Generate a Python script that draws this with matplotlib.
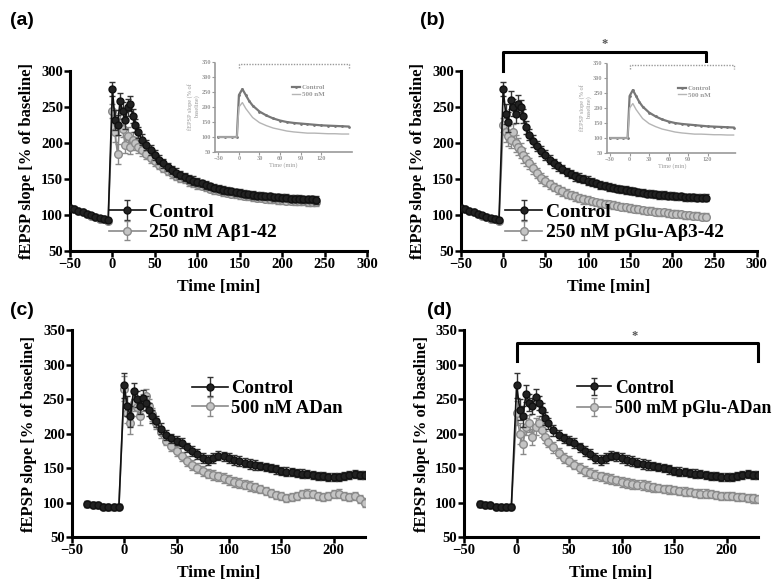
import matplotlib
matplotlib.use("Agg")
import matplotlib.pyplot as plt

plt.rcParams['font.family'] = ['Liberation Serif', 'DejaVu Serif']
plt.rcParams['font.weight'] = 'bold'

# ---------------- data: panels (a) and (b) ----------------
t_ab = [-50, -45, -40, -35, -30, -25, -20, -15, -10, -5,
        0, 3, 6, 9, 12, 15, 18, 21, 24, 27,
        30, 35, 40, 45, 50, 55, 60, 65, 70, 75, 80, 85, 90, 95, 100,
        105, 110, 115, 120, 125, 130, 135, 140, 145, 150, 155, 160, 165, 170, 175,
        180, 185, 190, 195, 200, 205, 210, 215, 220, 225, 230, 235, 240]

ctrl_a = [110, 108, 106, 104, 102, 100, 98, 96, 94, 93,
          275, 232, 225, 258, 245, 232, 250, 255, 238, 225,
          215, 205, 197, 190, 183, 177, 172, 167, 163, 159, 156, 153, 150, 148, 146,
          144, 142, 140, 138, 137, 135, 134, 133, 132, 131, 130, 129, 128, 127, 127,
          126, 126, 125, 125, 124, 124, 123, 123, 123, 122, 122, 122, 121]

abeta_a = [110, 108, 106, 104, 101, 99, 97, 95, 94, 92,
           245, 215, 185, 230, 220, 198, 210, 195, 205, 200,
           195, 190, 185, 180, 175, 170, 166, 162, 158, 155, 152, 150, 147, 145, 143,
           141, 139, 137, 135, 134, 132, 131, 130, 129, 128, 127, 126, 125, 124, 124,
           123, 122, 122, 121, 121, 120, 120, 119, 119, 119, 118, 118, 118]

ctrl_b = [110, 108, 106, 104, 102, 100, 98, 96, 94, 93,
          275, 240, 230, 260, 250, 240, 255, 250, 238, 222,
          212, 203, 196, 189, 183, 177, 172, 168, 164, 160, 157, 154, 152, 150, 148,
          146, 144, 142, 141, 139, 138, 137, 136, 135, 134, 133, 132, 131, 130, 130,
          129, 128, 128, 127, 127, 126, 126, 125, 125, 125, 124, 124, 124]

pglu_b = [110, 108, 106, 104, 101, 99, 97, 95, 94, 92,
          225, 215, 210, 205, 215, 200, 195, 190, 183, 178,
          172, 165, 158, 152, 147, 143, 139, 136, 133, 130, 128, 126, 124, 122, 121,
          119, 118, 117, 116, 115, 114, 113, 112, 111, 110, 109, 108, 107, 106, 106,
          105, 104, 104, 103, 102, 102, 101, 100, 100, 99, 99, 98, 98]

err_ab = [3, 3, 3, 3, 3, 3, 3, 3, 3, 3,
          10, 14, 14, 12, 12, 12, 12, 10, 10, 9,
          8, 8, 7, 7, 7, 6, 6, 6, 6, 6, 6, 6, 6, 6, 6,
          5, 5, 5, 5, 5, 5, 5, 5, 5, 5, 5, 5, 5, 5, 5,
          5, 5, 5, 5, 5, 5, 5, 5, 5, 5, 5, 5, 5]

# ---------------- data: panels (c) and (d) ----------------
t_cd = [-35, -30, -25, -20, -15, -10, -5,
        0, 3, 6, 9, 12, 15, 18, 21, 24, 27,
        30, 35, 40, 45, 50, 55, 60, 65, 70, 75, 80, 85, 90, 95, 100,
        105, 110, 115, 120, 125, 130, 135, 140, 145, 150, 155, 160, 165, 170, 175,
        180, 185, 190, 195, 200, 205, 210, 215, 220, 225, 230]

ctrl_c = [98, 97, 96, 94, 93, 93, 94,
          270, 240, 225, 262, 250, 240, 252, 245, 235, 225,
          218, 207, 198, 193, 190, 186, 180, 175, 170, 165, 162, 165, 168, 167, 165,
          162, 160, 158, 156, 154, 153, 152, 150, 148, 146, 145, 144, 143, 142, 141,
          140, 139, 138, 137, 137, 137, 138, 140, 141, 140, 140]

adan_c = [98, 97, 96, 94, 93, 93, 94,
          265, 230, 215, 245, 238, 225, 245, 255, 240, 228,
          215, 202, 190, 182, 175, 167, 160, 154, 150, 146, 142, 140, 138, 136, 133,
          130, 128, 126, 124, 122, 120, 117, 114, 111, 109, 107, 108, 110, 112, 113,
          112, 110, 108, 109, 112, 113, 110, 108, 110, 105, 100]

ctrl_d = [98, 97, 96, 94, 93, 93, 94,
          270, 235, 225, 258, 245, 240, 253, 245, 235, 222,
          215, 205, 198, 193, 190, 186, 180, 175, 170, 165, 162, 165, 168, 167, 165,
          162, 160, 158, 156, 154, 153, 152, 150, 148, 146, 145, 144, 143, 142, 141,
          140, 139, 138, 137, 137, 137, 138, 140, 141, 140, 140]

pglu_d = [98, 97, 96, 94, 93, 93, 94,
          230, 200, 185, 210, 215, 195, 210, 215, 205, 195,
          188, 180, 172, 165, 160, 155, 150, 146, 143, 140, 138, 136, 134, 132, 130,
          128, 127, 126, 125, 124, 122, 121, 120, 119, 118, 117, 116, 115, 114, 113,
          113, 112, 111, 110, 110, 109, 108, 108, 107, 106, 105]

err_cd = [4, 4, 4, 4, 4, 4, 4,
          18, 15, 15, 12, 12, 12, 12, 10, 10, 9,
          8, 8, 7, 7, 7, 7, 7, 7, 7, 7, 7, 7, 7, 7, 7,
          7, 7, 7, 7, 7, 6, 6, 6, 6, 6, 6, 6, 6, 6, 6,
          6, 6, 6, 6, 6, 6, 6, 6, 6, 6, 6]

# ---------------- inset data ----------------
t_ins = [-30, -20, -10, -3, 0, 5, 10, 15, 20, 30, 40, 50, 60, 70, 80, 90,
         100, 110, 120, 130, 140, 150, 160]
ins_ctrl = [100, 100, 100, 100, 240, 260, 240, 220, 205, 185, 172, 162, 155, 150,
            147, 145, 143, 141, 139, 138, 137, 136, 135]
ins_trt = [100, 100, 100, 100, 200, 215, 195, 180, 165, 148, 138, 130, 125, 120,
           117, 115, 113, 113, 112, 111, 111, 110, 110]

labels_a = ['Control', '250 nM A\u03b21-42']
labels_b = ['Control', '250 nM pGlu-A\u03b23-42']
labels_c = ['Control', '500 nM ADan']
labels_d = ['Control', '500 mM pGlu-ADan']
ylab = 'fEPSP slope [% of baseline]'
xlab = 'Time [min]'

fig = plt.figure(figsize=(7.8, 5.84), dpi=100)

ax_a = fig.add_axes([0.0897, 0.570, 0.381, 0.308])
ax_b = fig.add_axes([0.591, 0.570, 0.379, 0.308])
ax_c = fig.add_axes([0.092, 0.0805, 0.376, 0.354])
ax_d = fig.add_axes([0.595, 0.0805, 0.377, 0.354])

GRAY_F = '#c4c4c4'
GRAY_E = '#8a8a8a'


def draw(ax, t, ctrl, trt, err, labels):
    h2 = ax.errorbar(t, trt, yerr=err, fmt='-o', color=GRAY_E, ms=5.5,
                     mfc=GRAY_F, mec=GRAY_E, mew=1.0, lw=1.2, elinewidth=1.0,
                     capsize=2, ecolor=GRAY_E, zorder=2)
    h1 = ax.errorbar(t, ctrl, yerr=err, fmt='-o', color='#111111', ms=5,
                     mfc='#222222', mec='#111111', lw=1.2, elinewidth=1.0,
                     capsize=2, ecolor='#333333', zorder=3)
    return [h1, h2]


def style(ax, xlim, ylim, xticks, yticks):
    ax.set_xlim(*xlim)
    ax.set_ylim(*ylim)
    ax.set_xticks(xticks)
    ax.set_yticks(yticks)
    for s in ['top', 'right']:
        ax.spines[s].set_visible(False)
    for s in ['left', 'bottom']:
        ax.spines[s].set_linewidth(2.2)
    ax.tick_params(direction='out', length=4, width=1.8, labelsize=10.5, pad=1)
    for lab in ax.get_xticklabels() + ax.get_yticklabels():
        lab.set_fontweight('bold')
    ax.set_xlabel(xlab, fontsize=12.5, fontweight='bold', labelpad=6)
    ax.set_ylabel(ylab, fontsize=12, fontweight='bold', labelpad=4)


# panel a
ha = draw(ax_a, t_ab, ctrl_a, abeta_a, err_ab, labels_a)
style(ax_a, (-50, 300), (50, 300), [-50, 0, 50, 100, 150, 200, 250, 300],
      [50, 100, 150, 200, 250, 300])
ax_a.legend(ha, labels_a, loc='center left', bbox_to_anchor=(0.13, 0.16),
            frameon=False, fontsize=14, handlelength=1.9, handletextpad=0.2,
            labelspacing=0.15, borderpad=0, borderaxespad=0)

# panel b
hb = draw(ax_b, t_ab, ctrl_b, pglu_b, err_ab, labels_b)
style(ax_b, (-50, 300), (50, 300), [-50, 0, 50, 100, 150, 200, 250, 300],
      [50, 100, 150, 200, 250, 300])
ax_b.legend(hb, labels_b, loc='center left', bbox_to_anchor=(0.15, 0.16),
            frameon=False, fontsize=14, handlelength=1.9, handletextpad=0.2,
            labelspacing=0.15, borderpad=0, borderaxespad=0)
ax_b.plot([0, 0, 240, 240], [300, 327, 327, 300], color='black', lw=2.2,
          clip_on=False)
ax_b.text(120, 329, '*', ha='center', va='bottom', fontsize=9, color='#555555')

# panel c
hc = draw(ax_c, t_cd, ctrl_c, adan_c, err_cd, labels_c)
style(ax_c, (-50, 230), (50, 350), [-50, 0, 50, 100, 150, 200],
      [50, 100, 150, 200, 250, 300, 350])
ax_c.legend(hc, labels_c, loc='center left', bbox_to_anchor=(0.41, 0.67),
            frameon=False, fontsize=13.5, handlelength=1.9, handletextpad=0.2,
            labelspacing=0.15, borderpad=0, borderaxespad=0)

# panel d
hd = draw(ax_d, t_cd, ctrl_d, pglu_d, err_cd, labels_d)
style(ax_d, (-50, 230), (50, 350), [-50, 0, 50, 100, 150, 200],
      [50, 100, 150, 200, 250, 300, 350])
ax_d.legend(hd, labels_d, loc='center left', bbox_to_anchor=(0.385, 0.67),
            frameon=False, fontsize=12.8, handlelength=1.9, handletextpad=0.2,
            labelspacing=0.2, borderpad=0, borderaxespad=0)
ax_d.plot([0, 0, 230, 230], [305, 331, 331, 305], color='black', lw=2.2,
          clip_on=False)
ax_d.text(112, 333, '*', ha='center', va='bottom', fontsize=9, color='#555555')


# insets
def inset(rect, lab2):
    ax = fig.add_axes(rect)
    c = '#9a9a9a'
    ax.plot(t_ins, ins_ctrl, '-', color='#777777', lw=1.6, marker='.', ms=2)
    ax.plot(t_ins, ins_trt, '-', color='#b5b5b5', lw=1.0)
    ax.set_xlim(-35, 165)
    ax.set_ylim(50, 350)
    ax.set_xticks([-30, 0, 30, 60, 90, 120])
    ax.set_yticks([50, 100, 150, 200, 250, 300, 350])
    for s in ['top', 'right']:
        ax.spines[s].set_visible(False)
    for s in ['left', 'bottom']:
        ax.spines[s].set_color(c)
        ax.spines[s].set_linewidth(1.2)
        ax.spines[s].set_linestyle((0, (1, 1)))
    ax.tick_params(colors=c, labelsize=4.5, length=2, width=0.8, pad=1)
    ax.set_xlabel('Time (min)', fontsize=4.5, color=c, labelpad=1)
    ax.set_ylabel('fEPSP slope (% of\nbaseline)', fontsize=4.5, color=c,
                  labelpad=1)
    ax.plot([0, 0, 160, 160], [330, 345, 345, 330], color=c, lw=1.0,
            ls=(0, (1, 1)), clip_on=False)
    ax.legend(['Control', lab2], loc='upper right', bbox_to_anchor=(0.85, 0.82),
              frameon=False, fontsize=5, handlelength=1.2, handletextpad=0.2,
              labelcolor=c, labelspacing=0.1)
    return ax


inset([0.2756, 0.7397, 0.1756, 0.154], '500 nM')
inset([0.778, 0.738, 0.1667, 0.154], '500 nM')

# panel labels
for x, y, s in [(0.013, 0.965, '(a)'), (0.538, 0.965, '(b)'),
                (0.013, 0.468, '(c)'), (0.548, 0.468, '(d)')]:
    fig.text(x, y, s, fontsize=14, fontweight='bold',
             family=['Liberation Sans', 'DejaVu Sans'], va='center')

fig.savefig('out.png', dpi=100)
